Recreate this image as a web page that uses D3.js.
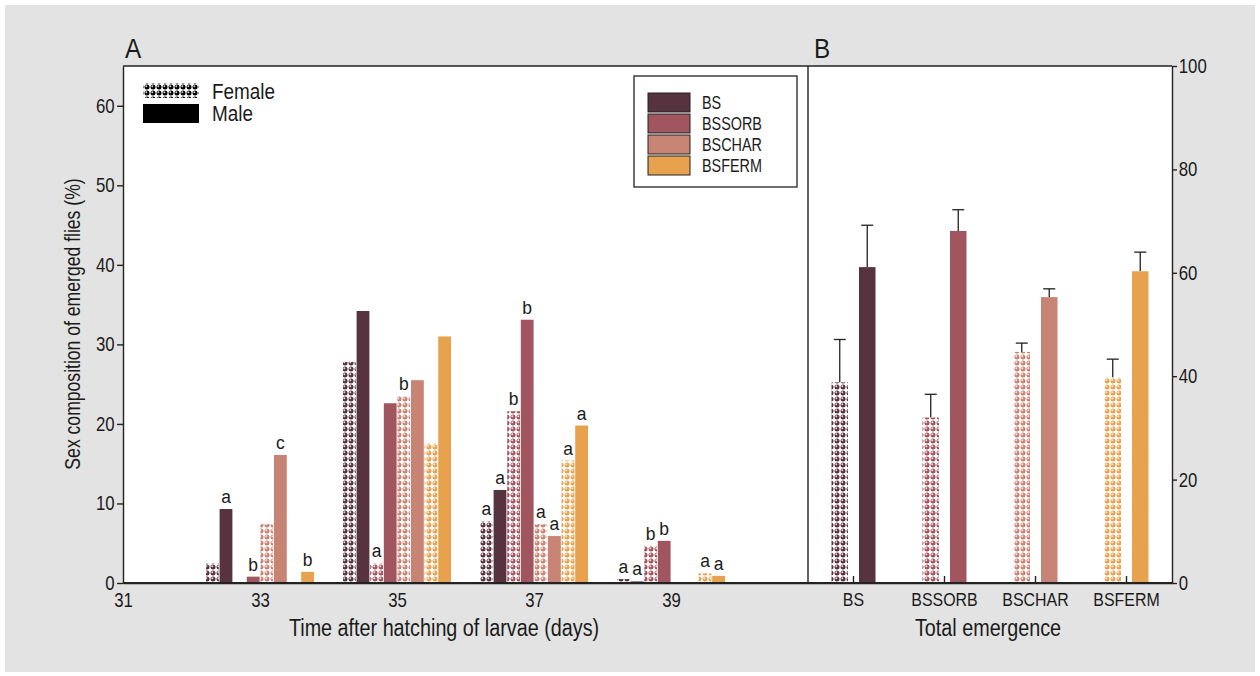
<!DOCTYPE html>
<html>
<head>
<meta charset="utf-8">
<script src="https://cdn.jsdelivr.net/npm/d3@7"></script>
<style>
	body { margin: 0; background: #fff; }
	text { font-family: "Liberation Sans Narrow", "Arial Narrow", "Liberation Sans", Arial, sans-serif; fill: #1b1b1b; }
</style>
</head>
<body>
<div id="viz"></div>
<script>
// ---- data ----
const days = [33, 35, 37, 39];
const dayTicks = [31, 33, 35, 37, 39];
const treatments = ["BS", "BSSORB", "BSCHAR", "BSFERM"];
const colors = ["#57333f", "#a1565f", "#c78474", "#e8a14d"];

// panel A: % of emerged flies per day (female / male)
const bsFemale = [2.5, 27.8, 7.8, 0.5];
const bsMale = [9.3, 34.2, 11.7, 0.2];
const sorbFemale = [0, 2.5, 21.6, 4.7];
const sorbMale = [0.8, 22.6, 33.1, 5.3];
const charFemale = [7.4, 23.5, 7.4, 0];
const charMale = [16.1, 25.5, 5.9, 0];
const fermFemale = [0, 17.6, 15.4, 1.2];
const fermMale = [1.4, 31.0, 19.8, 0.9];

// significance letters above bars
const bsFemaleLetters = ["", "", "a", "a"];
const bsMaleLetters = ["a", "", "a", "a"];
const sorbFemaleLetters = ["", "a", "b", "b"];
const sorbMaleLetters = ["b", "", "b", "b"];
const charFemaleLetters = ["", "b", "a", ""];
const charMaleLetters = ["c", "", "a", ""];
const fermFemaleLetters = ["", "", "a", "a"];
const fermMaleLetters = ["b", "", "a", "a"];

// panel B: total emergence (%) and upper error
const totalFemale = [38.8, 32.0, 44.7, 39.8];
const totalMale = [61.1, 68.1, 55.3, 60.3];
const totalFemaleErr = [8.3, 4.5, 1.7, 3.5];
const totalMaleErr = [8.1, 4.1, 1.6, 3.7];

const yTicksA = [0, 10, 20, 30, 40, 50, 60];
const yTicksB = [0, 20, 40, 60, 80, 100];

// ---- layout ----
const W = 1260, H = 676;
const mLeft = 123, mMid = 808, mRight = 1172, mTop = 66, mBottom = 583;
const ink = "#222";
const narrow = 0.84; // the figure uses a condensed face

const svg = d3.select("#viz").append("svg")
	.attr("width", W)
	.attr("height", H);

svg.append("rect").attr("width", W).attr("height", H).attr("fill", "#fff");
svg.append("rect")
	.attr("x", 5).attr("y", 5)
	.attr("width", W - 10).attr("height", H - 9)
	.attr("fill", "#e2e3e2");
svg.append("rect")
	.attr("x", mLeft).attr("y", mTop)
	.attr("width", mRight - mLeft).attr("height", mBottom - mTop)
	.attr("fill", "#fff");

// female hatch: little balls on white
const defs = svg.append("defs");
function makePattern(id, color) {
	const p = defs.append("pattern")
		.attr("id", id)
		.attr("patternUnits", "userSpaceOnUse")
		.attr("width", 6).attr("height", 6);
	p.append("rect").attr("width", 6).attr("height", 6).attr("fill", "#fff");
	p.append("circle").attr("cx", 3).attr("cy", 3).attr("r", 2.5).attr("fill", color);
	p.append("circle").attr("cx", 2.3).attr("cy", 2.2).attr("r", 1).attr("fill", "#fff").attr("opacity", 0.8);
}
colors.forEach((c, k) => makePattern("fem" + k, c));
makePattern("femBlack", "#000");

// text helper: place at x,y and squeeze horizontally
function narrowText(x, y, size, str, anchor = "start", rot = 0, sx = narrow) {
	return svg.append("text")
		.attr("transform", `translate(${x},${y}) rotate(${rot}) scale(${sx},1)`)
		.attr("text-anchor", anchor)
		.attr("font-size", size)
		.text(str);
}

// ---- scales ----
const xA = d3.scaleLinear().domain([31, 41]).range([mLeft, mMid]);
const yA = d3.scaleLinear().domain([0, 65]).range([mBottom, mTop]);
const yB = d3.scaleLinear().domain([0, 100]).range([mBottom, mTop]);

const subKeys = [];
treatments.forEach((t) => { subKeys.push(t + "F"); subKeys.push(t + "M"); });
const xSub = d3.scaleBand().domain(subKeys).range([-54, 54]).paddingInner(0.06);

const xB = d3.scaleBand().domain(treatments).range([mMid, mRight]);
const xSexB = d3.scaleBand().domain(["F", "M"]).range([-22, 22]).paddingInner(0.4);

// ---- panel A bars ----
const femaleSeries = [bsFemale, sorbFemale, charFemale, fermFemale];
const maleSeries = [bsMale, sorbMale, charMale, fermMale];
const femaleLetters = [bsFemaleLetters, sorbFemaleLetters, charFemaleLetters, fermFemaleLetters];
const maleLetters = [bsMaleLetters, sorbMaleLetters, charMaleLetters, fermMaleLetters];

const barsA = [];
treatments.forEach((t, k) => {
	days.forEach((d, i) => {
		barsA.push({ day: d, key: t + "F", k, sex: "F", v: femaleSeries[k][i], lab: femaleLetters[k][i] });
		barsA.push({ day: d, key: t + "M", k, sex: "M", v: maleSeries[k][i], lab: maleLetters[k][i] });
	});
});

svg.append("g")
	.selectAll("rect")
	.data(barsA)
	.join("rect")
	.attr("x", (d) => xA(d.day) + xSub(d.key))
	.attr("y", (d) => yA(d.v))
	.attr("width", xSub.bandwidth())
	.attr("height", (d) => yA(0) - yA(d.v))
	.attr("fill", (d) => (d.sex === "F" ? `url(#fem${d.k})` : colors[d.k]));

svg.append("g")
	.selectAll("text")
	.data(barsA.filter((d) => d.lab))
	.join("text")
	.attr("transform", (d) => `translate(${xA(d.day) + xSub(d.key) + xSub.bandwidth() / 2},${yA(d.v) - 6}) scale(0.92,1)`)
	.attr("text-anchor", "middle")
	.attr("font-size", 19)
	.text((d) => d.lab);

// ---- panel B bars ----
const barsB = [];
treatments.forEach((t, k) => {
	barsB.push({ t, k, sex: "F", v: totalFemale[k], e: totalFemaleErr[k] });
	barsB.push({ t, k, sex: "M", v: totalMale[k], e: totalMaleErr[k] });
});

const gB = svg.append("g");
const bx = (d) => xB(d.t) + xB.bandwidth() / 2 + xSexB(d.sex);

gB.selectAll("line.err")
	.data(barsB)
	.join("line")
	.attr("class", "err")
	.attr("x1", (d) => bx(d) + xSexB.bandwidth() / 2)
	.attr("x2", (d) => bx(d) + xSexB.bandwidth() / 2)
	.attr("y1", (d) => yB(d.v))
	.attr("y2", (d) => yB(d.v + d.e))
	.attr("stroke", ink).attr("stroke-width", 1.3);

gB.selectAll("line.cap")
	.data(barsB)
	.join("line")
	.attr("class", "cap")
	.attr("x1", (d) => bx(d) + xSexB.bandwidth() / 2 - 6)
	.attr("x2", (d) => bx(d) + xSexB.bandwidth() / 2 + 6)
	.attr("y1", (d) => yB(d.v + d.e))
	.attr("y2", (d) => yB(d.v + d.e))
	.attr("stroke", ink).attr("stroke-width", 1.3);

gB.selectAll("rect")
	.data(barsB)
	.join("rect")
	.attr("x", bx)
	.attr("y", (d) => yB(d.v))
	.attr("width", xSexB.bandwidth())
	.attr("height", (d) => yB(0) - yB(d.v))
	.attr("fill", (d) => (d.sex === "F" ? `url(#fem${d.k})` : colors[d.k]));

// ---- axes ----
function styleAxis(g, size) {
	g.attr("font-family", null).attr("font-size", null);
	g.selectAll("path, line").attr("stroke", ink).attr("stroke-width", 1.4);
	g.selectAll("text")
		.attr("font-size", size)
		.attr("fill", "#1b1b1b")
		.attr("transform", `scale(${narrow},1)`);
}

svg.append("g")
	.attr("transform", `translate(${mLeft},0)`)
	.call(d3.axisLeft(yA).tickValues(yTicksA).tickSize(6).tickPadding(4).tickSizeOuter(0))
	.call((g) => styleAxis(g, 20));

svg.append("g")
	.attr("transform", `translate(${mRight},0)`)
	.call(d3.axisRight(yB).tickValues(yTicksB).tickSize(5).tickPadding(3).tickSizeOuter(0))
	.call((g) => styleAxis(g, 20));

svg.append("g")
	.attr("transform", `translate(0,${mBottom})`)
	.call(d3.axisBottom(xA).tickValues(dayTicks).tickFormat(d3.format("d")).tickSize(0).tickPadding(10).tickSizeOuter(0))
	.call((g) => styleAxis(g, 20));

svg.append("g")
	.attr("transform", `translate(0,${mBottom})`)
	.call(d3.axisBottom(xB).tickSize(-7).tickPadding(10).tickSizeOuter(0))
	.call((g) => styleAxis(g, 19))
	.call((g) => g.selectAll("text").attr("y", 10));

// frame
const frame = svg.append("g").attr("stroke", ink).attr("stroke-width", 1.4);
frame.append("line").attr("x1", mLeft).attr("x2", mRight).attr("y1", mTop).attr("y2", mTop);
frame.append("line").attr("x1", mMid).attr("x2", mMid).attr("y1", mTop).attr("y2", mBottom);
frame.append("line").attr("x1", mLeft).attr("x2", mRight).attr("y1", mBottom).attr("y2", mBottom).attr("stroke-width", 2);

// ---- titles ----
narrowText(125, 58, 27, "A", "start", 0, 0.9);
narrowText(814, 58, 27, "B", "start", 0, 0.9);
narrowText(444, 636, 23, "Time after hatching of larvae (days)", "middle", 0, 0.86);
narrowText(988, 636, 23, "Total emergence", "middle", 0, 0.86);
narrowText(80, 324, 22, "Sex composition of emerged flies (%)", "middle", -90, 0.8);

// ---- sex legend ----
svg.append("rect").attr("x", 143).attr("y", 83).attr("width", 56).attr("height", 15).attr("fill", "url(#femBlack)");
svg.append("rect").attr("x", 143).attr("y", 104).attr("width", 56).attr("height", 19).attr("fill", "#000");
narrowText(212, 99, 22, "Female", "start", 0, 0.86);
narrowText(212, 121, 22, "Male", "start", 0, 0.86);

// ---- treatment legend ----
const leg = svg.append("g");
leg.append("rect")
	.attr("x", 634).attr("y", 76)
	.attr("width", 163).attr("height", 111)
	.attr("fill", "#fff").attr("stroke", ink).attr("stroke-width", 1.3);

const legItems = leg.selectAll("g.item")
	.data(treatments)
	.join("g")
	.attr("class", "item")
	.attr("transform", (d, i) => `translate(648,${93 + i * 21})`);

legItems.append("rect")
	.attr("width", 42).attr("height", 19)
	.attr("fill", (d, i) => colors[i])
	.attr("stroke", "#222").attr("stroke-width", 1);

legItems.append("text")
	.attr("transform", "translate(54,10) scale(0.8,1)")
	.attr("dy", "0.35em")
	.attr("font-size", 18)
	.text((d) => d);
</script>
</body>
</html>
